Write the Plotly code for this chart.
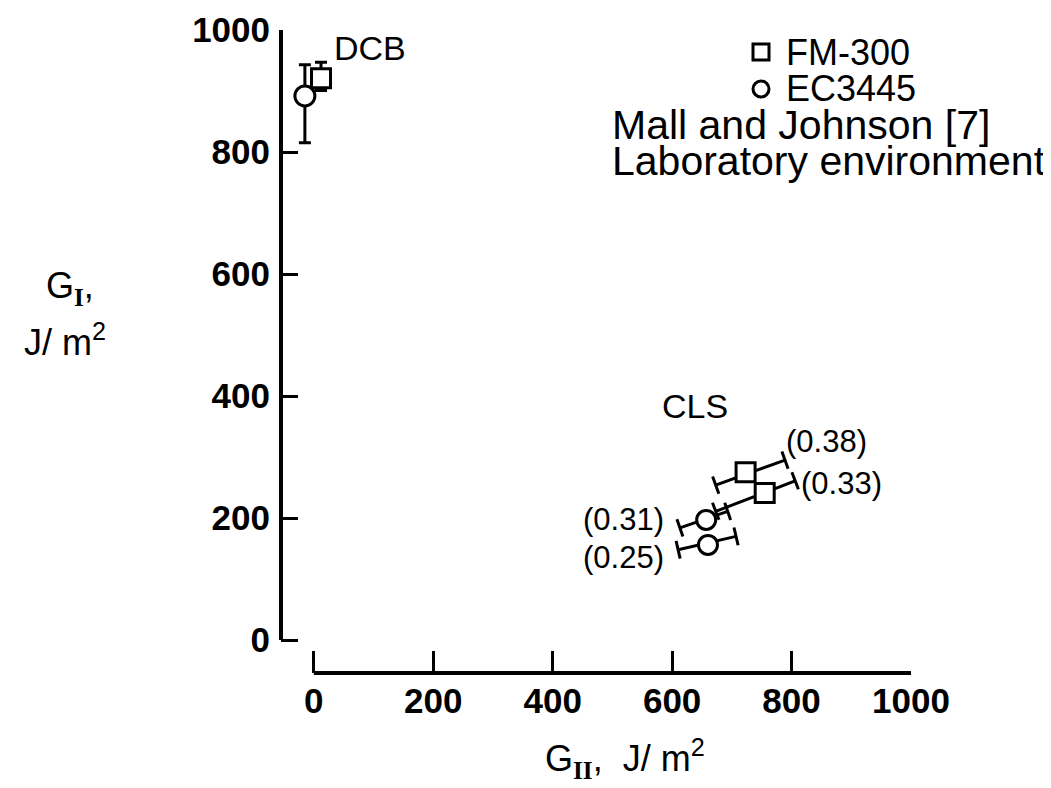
import math
import plotly.graph_objects as go

# ---------------- data ----------------
x_ticks = [0, 200, 400, 600, 800, 1000]
y_ticks = [0, 200, 400, 600, 800, 1000]

# DCB tests (vertical scatter bars)
dcb_fm_x = [12]
dcb_fm_y = [921]
dcb_fm_err_plus = [26]
dcb_fm_err_minus = [20]

dcb_ec_x = [-15]
dcb_ec_y = [892]
dcb_ec_err_plus = [51]
dcb_ec_err_minus = [77]

# CLS tests (scatter bars along the G_I/G_II ratio direction)
cls_fm_x = [723, 755]
cls_fm_y = [275, 241]
cls_fm_lo_x = [673, 673]
cls_fm_lo_y = [254, 211]
cls_fm_hi_x = [789, 806]
cls_fm_hi_y = [295, 261]
cls_fm_labels = ["(0.38)", "(0.33)"]

cls_ec_x = [657, 660]
cls_ec_y = [197, 156]
cls_ec_lo_x = [613, 610]
cls_ec_lo_y = [184, 148]
cls_ec_hi_x = [693, 707]
cls_ec_hi_y = [211, 170]
cls_ec_labels = ["(0.31)", "(0.25)"]

legend_lines = ["FM-300", "EC3445", "Mall and Johnson [7]", "Laboratory environment"]

# ---------------- layout geometry ----------------
W, H = 1051, 788
ML, MR, MT, MB = 273, 148, 22, 123
XR = [-55, 1000]
YR = [-54, 1000]
PW = W - ML - MR
PH = H - MT - MB
xpx = PW / (XR[1] - XR[0])
ypx = PH / (YR[1] - YR[0])


def pxx(p):  # pixel -> paper x
    return (p - ML) / PW


def pxy(p):  # pixel -> paper y
    return (H - MB - p) / PH


TXT = "Liberation Sans, Arial, sans-serif"
TICK = "Liberation Sans, Arial, sans-serif"
BLACK = "black"

fig = go.Figure()

mk_sq = dict(symbol="square", size=19, color="white", line=dict(color=BLACK, width=3))
mk_ci = dict(symbol="circle", size=20, color="white", line=dict(color=BLACK, width=3))

# DCB
fig.add_trace(go.Scatter(
    x=dcb_fm_x, y=dcb_fm_y, mode="markers", marker=mk_sq, cliponaxis=False,
    error_y=dict(type="data", symmetric=False, array=dcb_fm_err_plus,
                 arrayminus=dcb_fm_err_minus, color=BLACK, thickness=3, width=6),
    showlegend=False))
fig.add_trace(go.Scatter(
    x=dcb_ec_x, y=dcb_ec_y, mode="markers", marker=mk_ci, cliponaxis=False,
    error_y=dict(type="data", symmetric=False, array=dcb_ec_err_plus,
                 arrayminus=dcb_ec_err_minus, color=BLACK, thickness=3, width=6),
    showlegend=False))


def slanted_bars(lo_x, lo_y, hi_x, hi_y):
    for x0, y0, x1, y1 in zip(lo_x, lo_y, hi_x, hi_y):
        ang = -math.degrees(math.atan2((y1 - y0) * ypx, (x1 - x0) * xpx))
        fig.add_trace(go.Scatter(
            x=[x0, x1], y=[y0, y1], mode="lines+markers", cliponaxis=False,
            line=dict(color=BLACK, width=3),
            marker=dict(symbol="line-ns", size=13, angle=ang,
                        line=dict(color=BLACK, width=3)),
            showlegend=False, hoverinfo="skip"))


slanted_bars(cls_fm_lo_x, cls_fm_lo_y, cls_fm_hi_x, cls_fm_hi_y)
slanted_bars(cls_ec_lo_x, cls_ec_lo_y, cls_ec_hi_x, cls_ec_hi_y)

fig.add_trace(go.Scatter(x=cls_fm_x, y=cls_fm_y, mode="markers", marker=mk_sq,
                         cliponaxis=False, showlegend=False))
fig.add_trace(go.Scatter(x=cls_ec_x, y=cls_ec_y, mode="markers",
                         marker=dict(mk_ci, size=19), cliponaxis=False, showlegend=False))

# ---------------- axes ----------------
fig.update_xaxes(range=XR, showgrid=False, zeroline=False, showline=False,
                 automargin=False,
                 ticks="inside", ticklen=22, tickwidth=3, tickcolor=BLACK,
                 tickvals=x_ticks, ticktext=[str(v) for v in x_ticks],
                 ticklabelstandoff=4,
                 tickfont=dict(family=TICK, size=35, color=BLACK, weight="bold"))
fig.update_yaxes(range=YR, showgrid=False, zeroline=False, showline=False,
                 automargin=False,
                 ticks="inside", ticklen=17, tickwidth=3, tickcolor=BLACK,
                 tickvals=y_ticks, ticktext=[str(v) for v in y_ticks],
                 ticklabelstandoff=10,
                 tickfont=dict(family=TICK, size=35, color=BLACK, weight="bold"))

shapes = [
    dict(type="line", xref="x domain", yref="y", x0=0, x1=0,
         y0=min(y_ticks), y1=max(y_ticks), line=dict(color=BLACK, width=4)),
    dict(type="line", xref="x", yref="y domain", x0=min(x_ticks), x1=max(x_ticks),
         y0=0, y1=0, line=dict(color=BLACK, width=4)),
    # legend symbols
    dict(type="rect", xref="paper", yref="paper", xsizemode="pixel", ysizemode="pixel",
         xanchor=pxx(753), yanchor=pxy(44), x0=-8, x1=8, y0=-8, y1=8,
         line=dict(color=BLACK, width=3), fillcolor="white"),
    dict(type="circle", xref="paper", yref="paper", xsizemode="pixel", ysizemode="pixel",
         xanchor=pxx(753), yanchor=pxy(81), x0=-8, x1=8, y0=-8, y1=8,
         line=dict(color=BLACK, width=3), fillcolor="white"),
]

ann = []


def text(s, x, y, size, xanchor="center", yanchor="middle", family=TXT):
    ann.append(dict(text=s, x=x, y=y, xref="paper", yref="paper", showarrow=False,
                    xanchor=xanchor, yanchor=yanchor,
                    font=dict(family=family, size=size, color=BLACK)))


# legend text
text(legend_lines[0], pxx(776), pxy(44), 36, xanchor="left")
text(legend_lines[1], pxx(776), pxy(81), 36, xanchor="left")
text(legend_lines[2], pxx(602), pxy(117), 41, xanchor="left")
text(legend_lines[3], pxx(602), pxy(153), 41, xanchor="left")

# group labels
text("DCB", pxx(362), pxy(40), 34)
text("CLS", pxx(687), pxy(398), 34)

# ratio labels
text(cls_fm_labels[0], pxx(818), pxy(433), 31)
text(cls_fm_labels[1], pxx(833), pxy(476), 31)
text(cls_ec_labels[0], pxx(615), pxy(511), 31)
text(cls_ec_labels[1], pxx(615), pxy(549), 31)

# axis titles
roman = "<span style='font-family:Liberation Serif;font-weight:bold'>%s</span>"
text("G<sub>" + roman % "I" + "</sub>,", pxx(36), pxy(280), 36, xanchor="left")
text("J/ m<sup>2</sup>", pxx(14), pxy(332), 36, xanchor="left")
text("G<sub>" + roman % "II" + "</sub>,  J/ m<sup>2</sup>", pxx(535), pxy(750), 36,
     xanchor="left")

fig.update_layout(
    template="none",
    width=W, height=H, margin=dict(l=ML, r=MR, t=MT, b=MB, pad=0),
    paper_bgcolor="white", plot_bgcolor="white", showlegend=False,
    shapes=shapes, annotations=ann,
)

fig.write_html("out.html")
